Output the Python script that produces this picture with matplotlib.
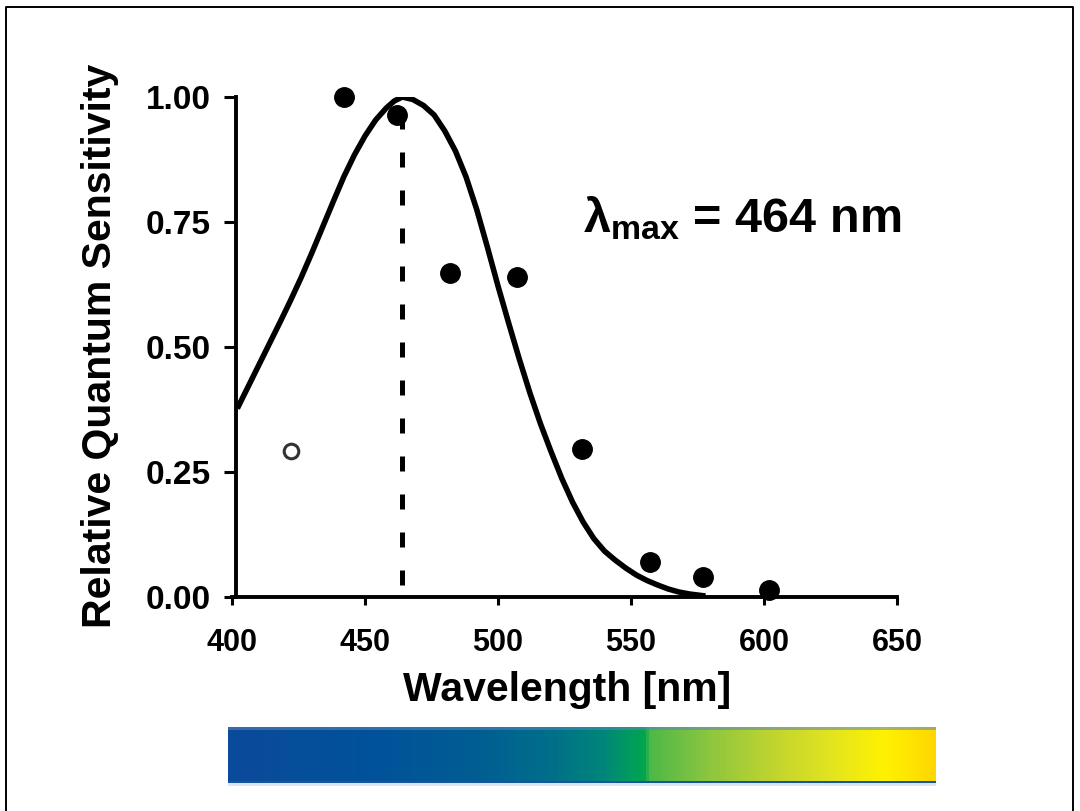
import numpy as np
import matplotlib
matplotlib.use('Agg')
import matplotlib.pyplot as plt
from matplotlib.colors import LinearSegmentedColormap, to_rgb
from matplotlib.lines import Line2D

plt.rcParams['font.family'] = ['Liberation Sans', 'DejaVu Sans']
plt.rcParams['font.weight'] = 'bold'
plt.rcParams['mathtext.fontset'] = 'custom'
plt.rcParams['mathtext.rm'] = 'Liberation Sans:bold'
plt.rcParams['mathtext.it'] = 'Liberation Sans:bold'
plt.rcParams['mathtext.bf'] = 'Liberation Sans:bold'

# measured sensitivities (filled circles)
wl_meas = [442, 462, 482, 507, 531.5, 557, 577, 602]
sens_meas = [1.00, 0.964, 0.648, 0.640, 0.296, 0.070, 0.040, 0.014]

# point left out of the fit (open circle)
wl_open = [422]
sens_open = [0.292]

# fitted template curve
wl_fit = [402, 406, 410, 414, 418, 422, 426, 430, 434, 438, 442, 446, 450, 454,
          458, 461, 464, 468, 472, 476, 480, 484, 488, 492, 496, 500, 504, 508,
          512, 516, 520, 524, 528, 532, 536, 540, 544, 548, 552, 556, 560, 564,
          568, 572, 578]
sens_fit = [0.377, 0.420, 0.463, 0.506, 0.549, 0.593, 0.639, 0.688, 0.739, 0.790,
            0.840, 0.884, 0.922, 0.954, 0.978, 0.992, 1.000, 0.995, 0.983, 0.964,
            0.932, 0.892, 0.840, 0.775, 0.700, 0.622, 0.548, 0.476, 0.408, 0.346,
            0.290, 0.237, 0.190, 0.150, 0.117, 0.092, 0.074, 0.058, 0.044, 0.033,
            0.024, 0.016, 0.010, 0.006, 0.002]

lambda_max = 464

xticks = [400, 450, 500, 550, 600, 650]
yticks = [0.00, 0.25, 0.50, 0.75, 1.00]
ytick_labels = ['0.00', '0.25', '0.50', '0.75', '1.00']

W, H = 1080, 811
fig = plt.figure(figsize=(W / 100, H / 100), dpi=100)

ax = fig.add_axes([232 / W, 1 - 597 / H, 665 / W, 500 / H])
ax.set_xlim(400, 650)
ax.set_ylim(0, 1)
for s in ['top', 'right']:
    ax.spines[s].set_visible(False)
for s in ['left', 'bottom']:
    ax.spines[s].set_linewidth(2.8)
ax.spines['left'].set_position(('data', 401.5))

ax.plot(wl_fit, sens_fit, color='black', lw=4.0, solid_joinstyle='round',
        solid_capstyle='butt', zorder=3)
ax.plot([lambda_max, lambda_max], [0, 1.0], color='black', lw=3.6,
        linestyle=(5.2, (3, 4.6)), zorder=2)
ax.plot(wl_meas, sens_meas, 'o', color='black', ms=14, zorder=4, clip_on=False)
ax.plot(wl_open, sens_open, 'o', mfc='white', mec='#333333', mew=2.2, ms=10.5, zorder=4)

ax.set_xticks(xticks)
ax.set_xticklabels([str(t) for t in xticks], fontsize=22, fontweight='bold')
ax.set_yticks(yticks)
ax.set_yticklabels(ytick_labels, fontsize=24, fontweight='bold')
ax.tick_params(axis='y', direction='out', length=9, width=2.2, pad=9)
ax.tick_params(axis='x', direction='out', length=6, width=2.2, pad=16)

fig.text(100 / W, 1 - 346 / H, 'Relative Quantum Sensitivity', rotation=90,
         ha='center', va='center', fontsize=29.5, fontweight='bold')
fig.text(567 / W, 1 - 690 / H, 'Wavelength [nm]', ha='center', va='center',
         fontsize=29.5, fontweight='bold')
fig.text(583 / W, 1 - 232 / H, r'$\lambda_{max}$ = %d nm' % lambda_max,
         ha='left', va='baseline', fontsize=35, fontweight='bold')

# spectrum bar under the axis
stops = [(0.00, '#0b4a9b'), (0.22, '#00539a'), (0.36, '#005e92'), (0.46, '#00708a'),
         (0.53, '#00867a'), (0.588, '#00a650'), (0.596, '#4cb848'), (0.68, '#8dc63f'),
         (0.78, '#c4d62e'), (0.86, '#e5e51d'), (0.93, '#fff200'), (1.00, '#fed700')]
spec = LinearSegmentedColormap.from_list('spectrum', stops)
ncol = 707
row = spec(np.linspace(0, 1, ncol))[:, :3]
top = 0.45 * row + 0.55 * np.array(to_rgb('#5a85b8'))
dark = np.tile(np.array(to_rgb('#17559c')), (ncol, 1))
light = np.tile(np.array(to_rgb('#dbe5f0')), (ncol, 1))
img = np.vstack([np.repeat(top[None], 3, 0), np.repeat(row[None], 51, 0),
                 np.repeat(dark[None], 2, 0), np.repeat(light[None], 3, 0)])
bax = fig.add_axes([228 / W, 1 - 786 / H, 707 / W, 59 / H])
bax.imshow(img, aspect='auto', interpolation='nearest')
bax.axis('off')

# page frame: left, top and right edges
fx = [6 / W, 6 / W, 1073 / W, 1073 / W]
fy = [0, 1 - 7 / H, 1 - 7 / H, 0]
fig.add_artist(Line2D(fx, fy, transform=fig.transFigure, color='black', lw=1.4))

fig.savefig('out.png', dpi=100)
